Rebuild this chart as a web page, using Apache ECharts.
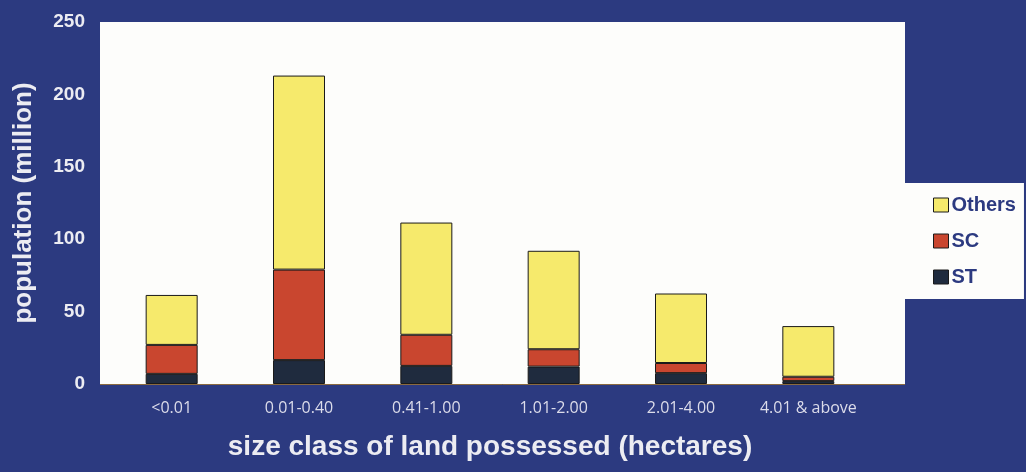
<!DOCTYPE html>
<html>
<head>
<meta charset="utf-8">
<script src="https://cdn.jsdelivr.net/npm/echarts@6/dist/echarts.min.js"></script>
<style>
  html, body { margin: 0; padding: 0; background: #2c3a80; }
  #chart { width: 1026px; height: 472px; }
</style>
</head>
<body>
<div id="chart"></div>
<script>
// size classes of land possessed (hectares)
var categories = ['<0.01', '0.01-0.40', '0.41-1.00', '1.01-2.00', '2.01-4.00', '4.01 & above'];
// population in million, stacked from the bottom
var stValues = [7, 16.5, 12.5, 12, 7.5, 2];
var scValues = [20, 62.5, 21.5, 12, 7, 3];
var othersValues = [34.5, 134, 77.5, 68, 48, 35];
var yTicks = { min: 0, max: 250, interval: 50 };

var chart = echarts.init(document.getElementById('chart'));

function barSeries(name, data, color) {
    return {
        name: name,
        type: 'bar',
        stack: 'total',
        barWidth: 52,
        data: data,
        itemStyle: {
            color: color,
            borderColor: '#1a1a1a',
            borderWidth: 1
        }
    };
}

chart.setOption({
    backgroundColor: '#2c3a80',
    animation: false,
    // white plot panel, wider than the category band
    graphic: [{
        type: 'rect',
        z: -1,
        shape: { x: 100, y: 22, width: 805, height: 362 },
        style: { fill: '#fdfdfb' }
    }, {
        type: 'line',
        z: -1,
        shape: { x1: 100, y1: 384.5, x2: 905, y2: 384.5 },
        style: { stroke: '#8a6a40', lineWidth: 1 }
    }],
    grid: {
        left: 108,
        top: 22,
        width: 764,
        height: 362
    },
    legend: {
        data: ['Others', 'SC', 'ST'],
        orient: 'vertical',
        left: 903,
        top: 183,
        backgroundColor: '#fdfdfb',
        padding: [12, 8, 12, 30],
        itemGap: 16,
        itemWidth: 15,
        itemHeight: 14,
        icon: 'rect',
        itemStyle: { borderColor: '#1a1a1a', borderWidth: 1 },
        textStyle: {
            color: '#2c3a80',
            fontFamily: 'Liberation Sans',
            fontWeight: 'bold',
            fontSize: 20,
            padding: [0, 0, 0, -2]
        }
    },
    xAxis: {
        type: 'category',
        data: categories,
        axisLine: { show: false },
        axisTick: { show: false },
        axisLabel: {
            color: '#dcdcea',
            fontFamily: 'Open Sans',
            fontSize: 16,
            margin: 16
        },
        name: 'size class of land possessed (hectares)',
        nameLocation: 'middle',
        nameGap: 49,
        nameTextStyle: {
            color: '#ececf2',
            fontFamily: 'Liberation Sans',
            fontWeight: 'bold',
            fontSize: 28
        }
    },
    yAxis: {
        type: 'value',
        min: yTicks.min,
        max: yTicks.max,
        interval: yTicks.interval,
        splitLine: { show: false },
        axisLine: { show: false },
        axisTick: { show: false },
        axisLabel: {
            color: '#ececf2',
            fontFamily: 'Liberation Sans',
            fontWeight: 'bold',
            fontSize: 19,
            margin: 23
        },
        name: 'population (million)',
        nameLocation: 'middle',
        nameGap: 71,
        nameTextStyle: {
            color: '#ececf2',
            fontFamily: 'Liberation Sans',
            fontWeight: 'bold',
            fontSize: 26
        }
    },
    series: [
        barSeries('ST', stValues, '#1f2b3e'),
        barSeries('SC', scValues, '#c9462f'),
        barSeries('Others', othersValues, '#f6ea6c')
    ]
});
</script>
</body>
</html>
